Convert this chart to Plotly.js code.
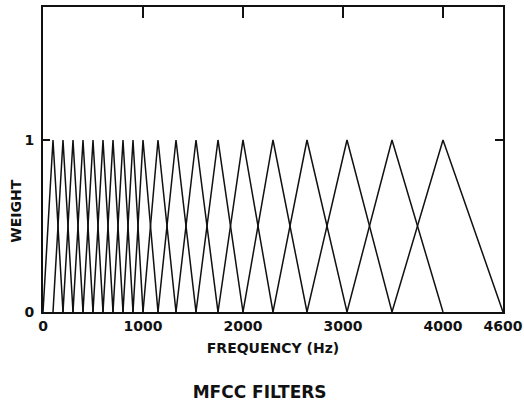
<!DOCTYPE html>
<html>
<head>
<meta charset="utf-8">
<script src="https://cdn.plot.ly/plotly-3.0.1.min.js"></script>
<style>html,body{margin:0;padding:0;background:#fff}#chart{width:524px;height:405px}</style>
</head>
<body>
<div id="chart"></div>
<script>
// Filter centre frequencies (Hz)
var filterCenters = [100, 200, 300, 400, 500, 600, 700, 800, 900, 1000,
                     1150, 1330, 1530, 1750, 2000, 2300, 2640, 3040, 3490, 4000];
// Lower edge of the first filter and upper edge of the last filter (Hz)
var bandEdges = [0, 4600];
// Peak weight of every filter
var peakWeight = 1;
// Axis ticks
var xTickVals = [0, 1000, 2000, 3000, 4000, 4600];
var xTickText = ['0', '1000', '2000', '3000', '4000', '4600'];
var yTickVals = [0, 1];
var yTickText = ['0', '1'];

var pts = [bandEdges[0]].concat(filterCenters, [bandEdges[1]]);
var traces = [];
for (var i = 1; i < pts.length - 1; i++) {
  traces.push({
    x: [pts[i - 1], pts[i], pts[i + 1]],
    y: [0, peakWeight, 0],
    mode: 'lines',
    line: {color: '#111', width: 1.5},
    hoverinfo: 'skip',
    showlegend: false
  });
}
// invisible trace to anchor the top / right tick-only axes
traces.push({x: [0], y: [0], xaxis: 'x2', yaxis: 'y2', mode: 'markers',
             marker: {opacity: 0}, showlegend: false, hoverinfo: 'skip'});

var fontFam = 'DejaVu Sans, Arial, sans-serif';
var xRange = [0, 4600];
var yRange = [0, 1.773];
var layout = {
  width: 524, height: 405,
  margin: {l: 43, r: 21, t: 7, b: 93},
  paper_bgcolor: '#fff', plot_bgcolor: '#fff',
  font: {family: fontFam, color: '#111', size: 14, weight: 'bold'},
  title: {
    text: 'MFCC FILTERS',
    font: {family: fontFam, size: 17, color: '#111', weight: 'bold'},
    x: 0.471, xref: 'paper', xanchor: 'center',
    y: 0.032, yref: 'container', yanchor: 'middle'
  },
  xaxis: {
    range: xRange, showgrid: false, zeroline: false,
    showline: true, linecolor: '#111', linewidth: 2, mirror: true,
    ticks: '', tickvals: xTickVals, ticktext: xTickText,
    ticklabeloverflow: 'allow',
    tickfont: {family: fontFam, size: 14, weight: 'bold'},
    title: {text: 'FREQUENCY (Hz)', font: {family: fontFam, size: 14, weight: 'bold'}, standoff: 10},
    fixedrange: true
  },
  xaxis2: {
    range: xRange, overlaying: 'x', side: 'top', anchor: 'y2',
    showgrid: false, zeroline: false, showline: false,
    tickvals: [1000, 2000, 3000, 4000], ticks: 'inside', ticklen: 11,
    tickwidth: 2, tickcolor: '#111', showticklabels: false
  },
  yaxis: {
    range: yRange, showgrid: false, zeroline: false,
    showline: true, linecolor: '#111', linewidth: 2, mirror: true,
    tickvals: yTickVals, ticktext: yTickText,
    ticks: 'inside', ticklen: 7, tickwidth: 2, tickcolor: '#111',
    ticklabelstandoff: 4,
    tickfont: {family: fontFam, size: 14, weight: 'bold'},
    fixedrange: true
  },
  yaxis2: {
    range: yRange, overlaying: 'y', side: 'right', anchor: 'x2',
    showgrid: false, zeroline: false, showline: false,
    tickvals: [1], ticks: 'inside', ticklen: 8, tickwidth: 2,
    tickcolor: '#111', showticklabels: false
  },
  annotations: [{
    text: 'WEIGHT', textangle: -90, showarrow: false,
    xref: 'paper', yref: 'paper', x: -0.058, y: 0.33,
    xanchor: 'center', yanchor: 'middle',
    font: {family: fontFam, size: 14, color: '#111', weight: 'bold'}
  }]
};
Plotly.newPlot('chart', traces, layout, {staticPlot: true, displayModeBar: false});
</script>
</body>
</html>
